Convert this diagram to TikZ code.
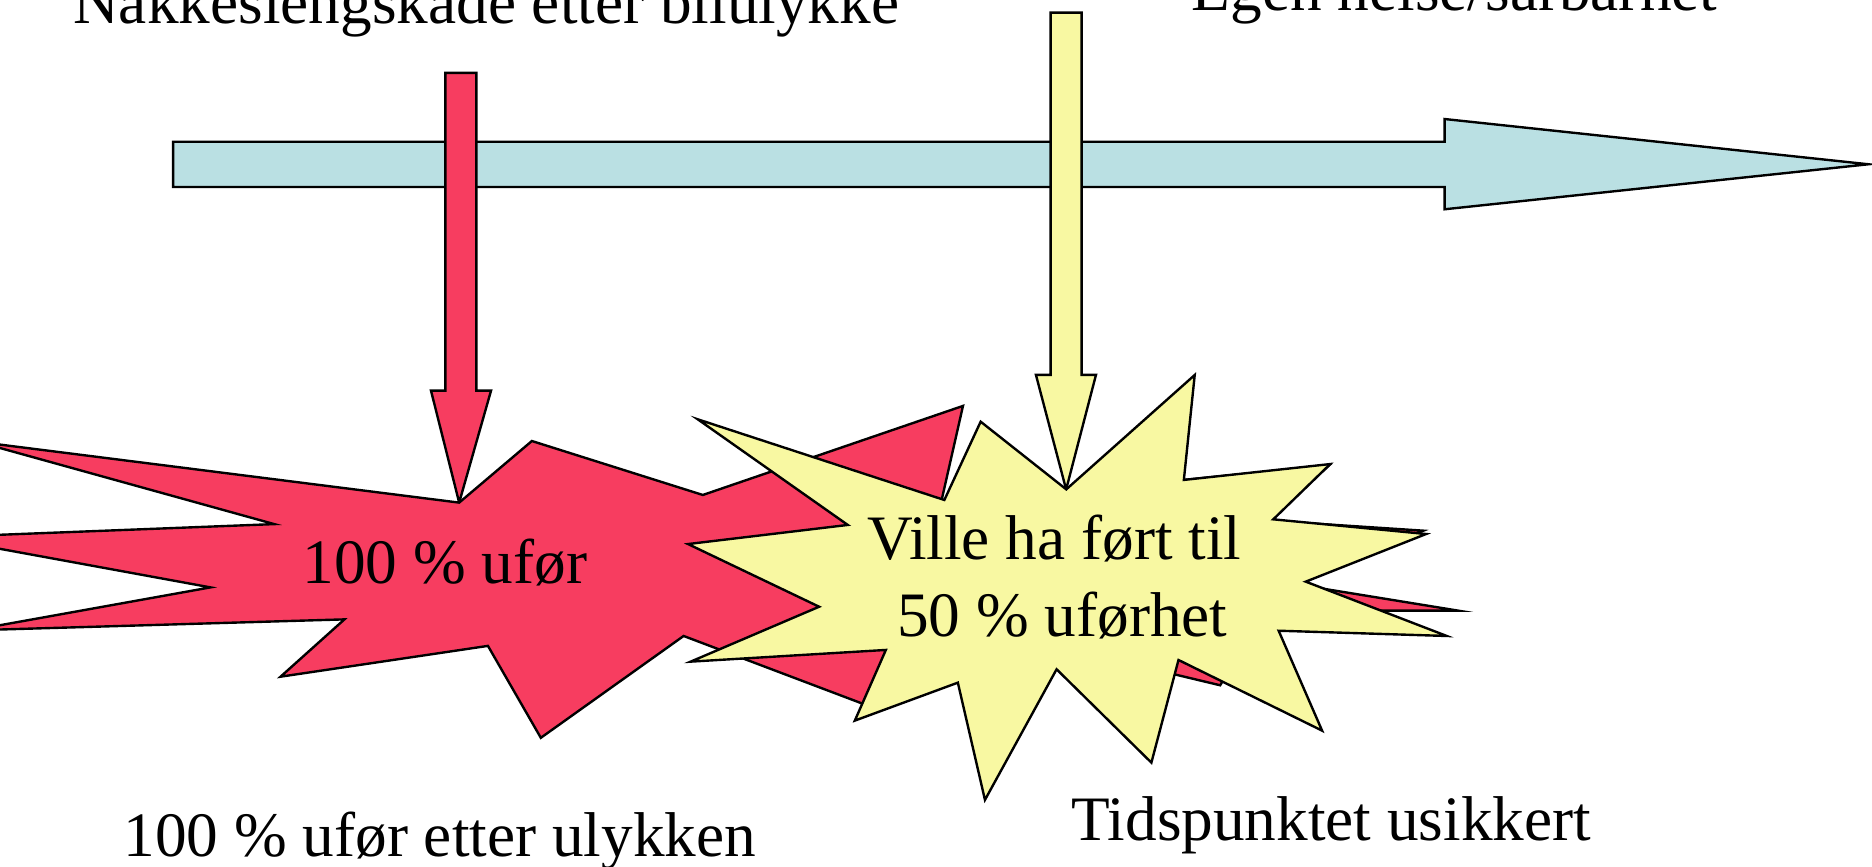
\documentclass[tikz,border=0pt]{standalone}
\usepackage{fontspec}
\setmainfont{Liberation Serif}
\definecolor{starred}{RGB}{247,61,96}
\definecolor{staryellow}{RGB}{248,248,162}
\definecolor{arrowblue}{RGB}{186,224,227}
\tikzset{
  shapeline/.style={draw=black,line width=1pt,line join=miter,miter limit=20},
  lbl/.style={anchor=base west,inner sep=0pt,font=\fontsize{26.5}{32}\selectfont}
}
\begin{document}
\begin{tikzpicture}[x=0.5pt,y=-0.5pt]
\useasboundingbox (0,0) rectangle (1568,726);
\clip (0,0) rectangle (1568,726);
\fill[white] (0,0) rectangle (1568,726);
% time arrow
\draw[shapeline,fill=arrowblue] (145,118.7) -- (1210,118.7) -- (1210,99.7) -- (1565,137.6) -- (1210,175.3) -- (1210,156.6) -- (145,156.6) -- cycle;
% red down arrow
\draw[shapeline,fill=starred] (373,61) -- (399,61) -- (399,327.2) -- (411.3,327.2) -- (384.6,421) -- (361,327.2) -- (373,327.2) -- cycle;
% yellow down arrow
\draw[shapeline,fill=staryellow] (880,10.6) -- (906,10.6) -- (906,314) -- (918,314) -- (893,410) -- (867.7,314) -- (880,314) -- cycle;
% red explosion
\draw[shapeline,fill=starred] (-19,370) -- (384.6,421) -- (445.5,369.4) -- (588.7,414.6) -- (806.6,340) -- (788,422) -- (1113,390) -- (1062,436) -- (1192.2,444.5) -- (1080,488.5) -- (1221.5,511.5) -- (1060,511.5) -- (1022,574) -- (880,540) -- (732,593) -- (572.6,532.7) -- (453,618) -- (408.7,541) -- (235,566.8) -- (288.5,518.8) -- (-24,528) -- (176.3,492) -- (-53,450) -- (229.7,439) -- cycle;
% yellow explosion
\draw[shapeline,fill=staryellow] (584.4,351.2) -- (791,418.8) -- (821.4,353.2) -- (893.1,409.9) -- (1000.7,314.1) -- (991.6,402) -- (1114.2,388.7) -- (1066.5,435) -- (1194.5,447.3) -- (1093.7,487.2) -- (1211.8,532.7) -- (1071,528.3) -- (1107.4,612) -- (987.1,552.8) -- (964.4,638.8) -- (885,560.6) -- (825,670) -- (802.3,571.8) -- (716,603.6) -- (742,544.4) -- (578.5,554.2) -- (686.1,508.2) -- (576.3,455.7) -- (710.1,439.7) -- cycle;
% texts
\node[lbl] (t1) at (61,20) {Nakkeslengskade etter bilulykke};
\node[lbl] (t2) at (998,8.4) {Egen helse/sårbarhet};
\node[lbl] (t3) at (253,488.6) {100 \% ufør};
\node[lbl] (t4) at (726,468.5) {Ville ha ført til};
\node[lbl] (t5) at (751,533.3) {50 \% uførhet};
\node[lbl] (t6) at (103,717) {100 \% ufør etter ulykken};
\node[lbl] (t7) at (897,704.2) {Tidspunktet usikkert};
\end{tikzpicture}
\end{document}
